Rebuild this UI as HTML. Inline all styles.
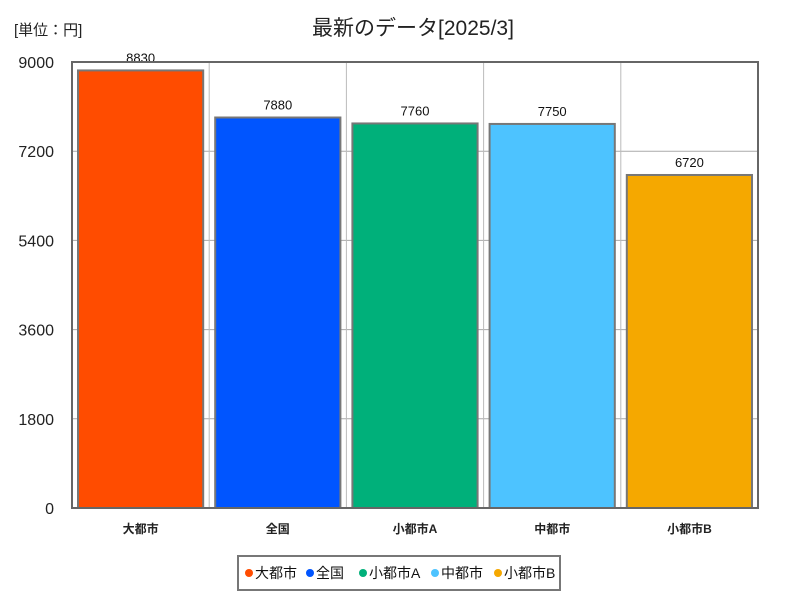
<!DOCTYPE html>
<html><head><meta charset="utf-8"><style>
body{margin:0;background:#fff;width:800px;height:600px;overflow:hidden;font-family:"Liberation Sans","Noto Sans CJK JP",sans-serif}
</style></head><body>
<svg id="chart" width="800" height="600" xmlns="http://www.w3.org/2000/svg" font-family="Liberation Sans, Noto Sans CJK JP, sans-serif">
<rect width="800" height="600" fill="#fff"/>
<text x="14" y="35" font-size="15" fill="#222">[単位：円]</text>
<text x="413" y="35" font-size="21" text-anchor="middle" fill="#222">最新のデータ[2025/3]</text>
<g id="grid"></g><g id="bars"></g><g id="labels"></g><g id="axes"></g>
<g>
<rect x="238" y="556" width="322" height="34" fill="#fff" stroke="#777" stroke-width="2"/>
<g id="legend"></g></g>
</svg>
<script>
const categories=["大都市","全国","小都市A","中都市","小都市B"];
const values=[8830,7880,7760,7750,6720];
const colors=["#ff4c00","#0055ff","#00b07a","#4dc3ff","#f5a800"];
const ticks=[0,1800,3600,5400,7200,9000];
const NS="http://www.w3.org/2000/svg";
const L=72,R=758,T=62,B=508,maxV=9000;
const y=v=>B-v*(B-T)/maxV;
const bw=(R-L)/categories.length;
const x=i=>L+i*bw;
function mk(t,a,p){const e=document.createElementNS(NS,t);for(const k in a)e.setAttribute(k,a[k]);p.appendChild(e);return e;}
const grid=document.getElementById('grid'),bars=document.getElementById('bars'),labels=document.getElementById('labels'),axes=document.getElementById('axes'),leg=document.getElementById('legend');
ticks.forEach(t=>{
 const g=mk('line',{x1:L,x2:R,y1:y(t),y2:y(t),stroke:'#aaa','stroke-width':1},grid);
 
 
 const tx=mk('text',{x:L-18,y:y(t)+6,'font-size':16,'text-anchor':'end',fill:'#222'},axes);
 tx.textContent=t;
 
 
});
for(let i=1;i<categories.length;i++){
 const g=mk('line',{x1:x(i),x2:x(i),y1:T,y2:B,stroke:'#bbb','stroke-width':1},grid);
 
 
}
categories.forEach((c,i)=>{
 const b=mk('rect',{x:x(i)+6,y:y(values[i]),width:bw-12,height:B-y(values[i]),fill:colors[i],stroke:'#777','stroke-width':2},bars);
 
 
 const cx=x(i)+bw/2;
 const ly=y(values[i])-8;
 const bg=mk('rect',{x:cx-16,y:ly-12,width:32,height:14,fill:'#fff'},labels);
 
 
 const vt=mk('text',{x:cx,y:ly,'font-size':13,'text-anchor':'middle',fill:'#111'},labels);
 vt.textContent=values[i];
 
 
 const ct=mk('text',{x:cx,y:533,'font-size':12,'font-weight':'bold','text-anchor':'middle',fill:'#222'},axes);
 ct.textContent=c;
 
 
});
const fr=mk('rect',{x:L,y:T,width:R-L,height:B-T,fill:'none',stroke:'#666','stroke-width':2},axes);


const lx=[245,306,359,431,494];
categories.forEach((c,i)=>{
 const d=mk('circle',{cx:lx[i]+4,cy:573,r:4,fill:colors[i]},leg);
 
 
 const t=mk('text',{x:lx[i]+10,y:578,'font-size':14,fill:'#111'},leg);
 t.textContent=c;
 
 
});
</script>
</body></html>
